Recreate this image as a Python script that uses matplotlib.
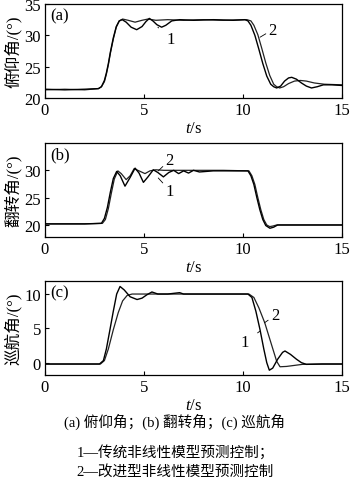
import matplotlib
matplotlib.use("Agg")
import matplotlib.pyplot as plt

plt.rcParams["font.family"] = ["Liberation Serif", "Noto Sans CJK SC"]
plt.rcParams["mathtext.fontset"] = "custom"
plt.rcParams["mathtext.it"] = "Liberation Serif:italic"
plt.rcParams["mathtext.rm"] = "Liberation Serif"

# (a) pitch angle
pitch_t1 = [0, 1, 2, 2.7, 2.85, 3.0, 3.1, 3.2, 3.3, 3.45, 3.6, 3.75, 3.9, 4.1, 4.35,
            4.63, 4.9, 5.1, 5.27, 5.45, 5.65, 5.89, 6.1, 6.4, 6.8, 7.5, 8.5, 9.5,
            10.1, 10.25, 10.4, 10.6, 10.8, 11.0, 11.2, 11.4, 11.55, 11.7, 11.9,
            12.1, 12.3, 12.46, 12.7, 12.95, 13.2, 13.46, 13.75, 14.06, 14.5, 15]
pitch_v1 = [21.4, 21.3, 21.4, 21.5, 21.8, 22.8, 24.0, 25.5, 27.3, 29.6, 31.4, 32.3,
            32.5, 32.1, 31.3, 30.9, 31.4, 32.2, 32.7, 32.3, 31.7, 31.3, 31.6, 32.3,
            32.5, 32.4, 32.5, 32.4, 32.5, 32.3, 31.6, 30.0, 27.8, 25.5, 23.5, 22.2,
            21.8, 21.6, 21.9, 22.7, 23.2, 23.3, 23.0, 22.4, 21.9, 21.6, 21.8, 22.1,
            22.1, 22.0]
pitch_t2 = [0, 1, 2, 2.7, 2.85, 3.0, 3.1, 3.2, 3.3, 3.45, 3.6, 3.75, 3.92, 4.2,
            4.55, 4.9, 5.2, 5.6, 6.2, 7, 8, 9, 10.2, 10.4, 10.55, 10.75, 10.95,
            11.15, 11.35, 11.55, 11.7, 11.85, 12.05, 12.3, 12.6, 12.9, 13.2, 13.6,
            14.1, 15]
pitch_v2 = [21.3, 21.4, 21.3, 21.5, 21.8, 22.6, 23.8, 25.3, 27.1, 29.4, 31.3, 32.3,
            32.6, 32.4, 32.1, 32.4, 32.6, 32.4, 32.5, 32.4, 32.5, 32.4, 32.5, 32.3,
            31.6, 30.1, 27.9, 25.6, 23.6, 22.2, 21.8, 21.6, 21.8, 22.3, 22.7, 22.8,
            22.7, 22.4, 22.2, 22.1]

# (b) roll angle
roll_t1 = [0, 1, 2, 2.85, 3.0, 3.15, 3.3, 3.45, 3.62, 3.8, 4.04, 4.3, 4.55, 4.75,
           4.97, 5.2, 5.47, 5.7, 5.98, 6.25, 6.5, 6.75, 7.0, 7.25, 7.5, 7.8, 8.5,
           9.5, 10.25, 10.4, 10.55, 10.7, 10.85, 11.0, 11.15, 11.36, 11.55, 11.75,
           12.5, 15]
roll_v1 = [20.2, 20.2, 20.2, 20.3, 21.2, 23.2, 26.0, 28.5, 29.8, 29.0, 27.1, 28.7,
           30.4, 29.5, 27.8, 28.8, 30.1, 29.6, 28.8, 29.6, 30.0, 29.4, 29.9, 29.5,
           30.0, 29.7, 29.9, 29.9, 29.9, 29.0, 27.4, 25.0, 22.8, 21.0, 19.9, 19.4,
           19.6, 20.0, 20.0, 20.0]
roll_t2 = [0, 1, 2, 2.9, 3.05, 3.2, 3.35, 3.5, 3.68, 3.85, 4.1, 4.3, 4.5, 4.75,
           5.05, 5.3, 5.6, 6, 7, 8, 9, 10.3, 10.45, 10.6, 10.75, 10.9, 11.05, 11.2,
           11.35, 11.5, 11.7, 12.5, 15]
roll_v2 = [20.2, 20.2, 20.2, 20.3, 21.0, 23.0, 25.8, 28.4, 29.9, 29.4, 28.3, 29.0,
           30.3, 29.9, 29.4, 29.9, 30.1, 30.0, 30.0, 30.0, 30.0, 29.9, 29.0, 27.4,
           25.0, 22.8, 21.0, 20.0, 19.7, 19.8, 20.0, 20.0, 20.0]

# (c) yaw angle
yaw_t1 = [0, 1, 2, 2.75, 2.95, 3.1, 3.28, 3.45, 3.62, 3.79, 4.0, 4.3, 4.65, 4.9,
          5.15, 5.4, 5.7, 6.2, 6.8, 7.0, 8, 9, 10.25, 10.45, 10.65, 10.86, 11.05,
          11.2, 11.33, 11.5, 11.75, 12.0, 12.12, 12.4, 12.7, 12.95, 13.2, 14, 15]
yaw_v1 = [-0.2, -0.2, -0.2, -0.2, 0.3, 2.0, 4.8, 7.5, 10.0, 11.1, 10.6, 9.6, 9.2,
          9.4, 9.9, 10.3, 10.0, 10.0, 10.2, 10.0, 10.0, 10.0, 10.0, 9.5, 7.5, 4.8,
          2.0, 0.0, -1.1, -0.8, 0.5, 1.5, 1.7, 1.2, 0.5, 0.0, -0.25, -0.2, -0.2]
yaw_t2 = [0, 1, 2, 2.8, 3.0, 3.2, 3.45, 3.7, 3.92, 4.15, 4.4, 5, 6, 7, 8, 9, 10.3,
          10.55, 10.8, 11.1, 11.4, 11.7, 11.87, 12.2, 12.6, 13.0, 14, 15]
yaw_v2 = [-0.2, -0.2, -0.2, -0.2, 0.3, 2.0, 4.8, 7.3, 9.0, 9.8, 10.0, 10.0, 10.0,
          10.0, 10.0, 10.0, 10.0, 9.5, 8.0, 5.8, 3.0, 0.2, -0.6, -0.55, -0.4,
          -0.25, -0.2, -0.2]

panel_tags = ["(a)", "(b)", "(c)"]
ylabels = ["俯仰角/(°)", "翻转角/(°)", "巡航角/(°)"]
ylims = [(20, 35), (17.8, 35), (-1.8, 11.9)]
yticks = [[20, 25, 30, 35], [20, 25, 30], [0, 5, 10]]
xticks = [0, 5, 10, 15]
captions = ["(a) 俯仰角；(b) 翻转角；(c) 巡航角",
            "1—传统非线性模型预测控制；",
            "2—改进型非线性模型预测控制"]

# curve label annotations: (text, text pos, arrow end)
notes = [
    [("1", (6.35, 29.4), (5.7, 31.3)), ("2", (11.5, 30.9), (10.86, 29.7))],
    [("2", (6.3, 31.9), (5.72, 29.9)), ("1", (6.3, 26.3), (5.72, 28.6))],
    [("2", (11.62, 6.9), (11.08, 5.8)), ("1", (10.1, 3.0), (10.86, 4.6))],
]

series = [
    (pitch_t1, pitch_v1, pitch_t2, pitch_v2),
    (roll_t1, roll_v1, roll_t2, roll_v2),
    (yaw_t1, yaw_v1, yaw_t2, yaw_v2),
]

fig = plt.figure(figsize=(3.5, 4.85), dpi=100)
bottoms = [386, 247, 109]
for i, (t1, v1, t2, v2) in enumerate(series):
    ax = fig.add_axes([45 / 350, bottoms[i] / 485, 297 / 350, 94 / 485])
    ax.plot(t2, v2, color="#222222", lw=0.9)
    ax.plot(t1, v1, color="black", lw=1.0)
    ax.set_xlim(0, 15)
    ax.set_ylim(*ylims[i])
    ax.set_xticks(xticks)
    ax.set_yticks(yticks[i])
    ax.tick_params(direction="in", length=3, width=0.8, labelsize=12, pad=3)
    for s in ax.spines.values():
        s.set_linewidth(0.9)
    ax.set_xlabel("$t$/s", fontsize=12, labelpad=1)
    ax.set_ylabel(ylabels[i], fontsize=12)
    ax.yaxis.set_label_coords(-0.078, 0.5)
    ax.text(0.017, 0.88, panel_tags[i], transform=ax.transAxes, fontsize=12,
            va="center", ha="left")
    for txt, pos, end in notes[i]:
        ax.annotate(txt, xy=end, xytext=pos, fontsize=12, ha="center",
                    va="center",
                    arrowprops=dict(arrowstyle="-", lw=0.6, color="black",
                                    shrinkA=5, shrinkB=0))

for y, c in zip([0.130, 0.068, 0.027], captions):
    fig.text(0.5, y, c, ha="center", va="center", fontsize=10.5)

fig.savefig("out.png", dpi=100)
